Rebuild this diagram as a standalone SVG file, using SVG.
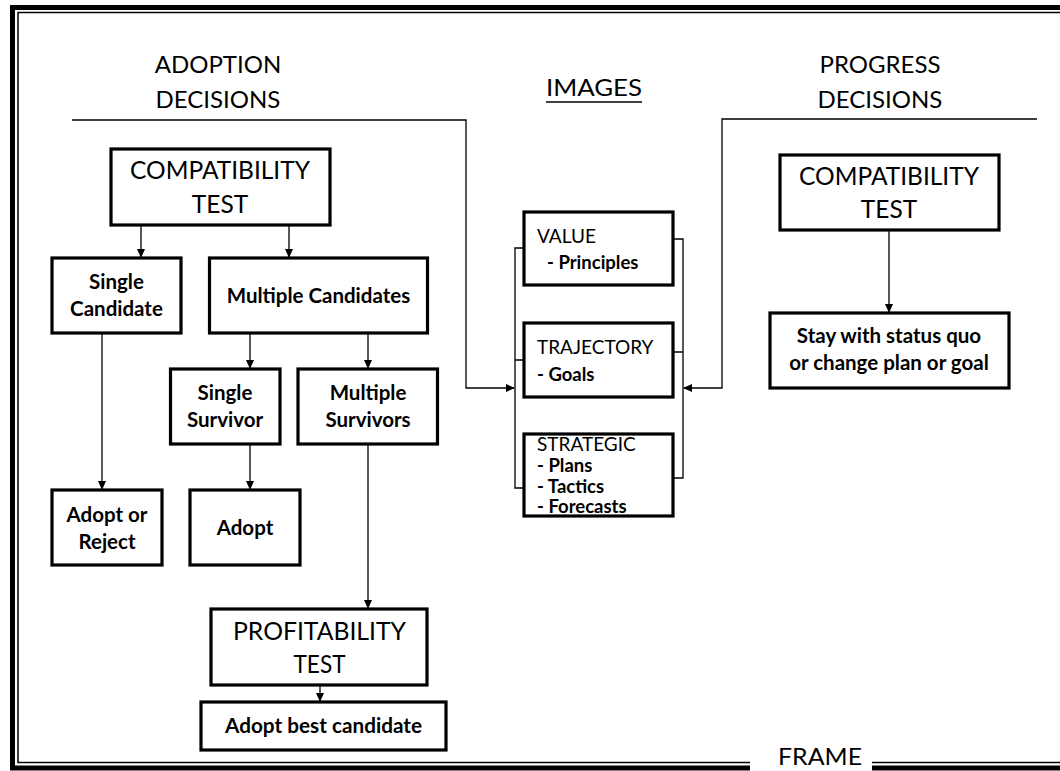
<svg xmlns="http://www.w3.org/2000/svg" width="1060" height="771" viewBox="0 0 1060 771">
<defs>
<marker id="ah" markerWidth="9" markerHeight="8" refX="8" refY="4" orient="auto" markerUnits="userSpaceOnUse"><path d="M0,0 L9,4 L0,8 z" fill="#000"/></marker>
<style>
.box{fill:#fff;stroke:#000;stroke-width:3.2}
.c{fill:none;stroke:#000;stroke-width:1.3}
.a{marker-end:url(#ah)}
.t{font-family:Lato,"Liberation Sans",sans-serif;fill:#000}
.h{font-size:24px;text-anchor:middle}
.ct{font-size:24.5px;text-anchor:middle}
.b{font-size:20.5px;font-weight:bold;text-anchor:middle}
.s{font-size:19px}
.sb{font-size:18.5px;font-weight:bold}
.cd{font-size:25px;text-anchor:middle}
.fr{fill:none;stroke:#000}
</style>
</defs>
<rect width="1060" height="771" fill="#fff"/>
<g id="frame">
<path class="fr" stroke-width="5" d="M1070 7.5 H12.5 V768 H750 M872 768 H1070"/>
<path class="fr" stroke-width="1.5" d="M1070 12.5 H18 V762.5 H750 M872 762.5 H1070"/>
<text class="t" x="820" y="765" font-size="23" text-anchor="middle" textLength="84" lengthAdjust="spacingAndGlyphs">FRAME</text>
</g>
<g id="headers">
<text class="t h" x="218" y="73">ADOPTION</text>
<text class="t h" x="218" y="108">DECISIONS</text>
<text class="t h" x="594" y="96" font-size="26" textLength="96" lengthAdjust="spacingAndGlyphs">IMAGES</text>
<line x1="546" y1="102" x2="642" y2="102" stroke="#000" stroke-width="1.5"/>
<text class="t h" x="880" y="73">PROGRESS</text>
<text class="t h" x="880" y="108">DECISIONS</text>
</g>
<g id="connectors">
<path class="c a" d="M141 225 V257"/>
<path class="c a" d="M289 225 V257"/>
<path class="c a" d="M102 333 V489"/>
<path class="c a" d="M250 333 V368"/>
<path class="c a" d="M368 333 V368"/>
<path class="c a" d="M250 444 V489"/>
<path class="c a" d="M368 444 V608"/>
<path class="c a" d="M320 685 V701"/>
<path class="c a" d="M72 120 H466 V388 H514"/>
<path class="c a" d="M1037 119 H722 V388 H684"/>
<path class="c a" d="M889 230 V312"/>
<path class="c" d="M523 248 H515 V488 H523 M515 360 H523"/>
<path class="c" d="M673 239 H683 V478 H673 M673 352 H683"/>
</g>
<g id="compat-left">
<rect class="box" x="111" y="149" width="219" height="76"/>
<text class="t ct" x="220" y="179">COMPATIBILITY</text>
<text class="t ct" x="220" y="213">TEST</text>
</g>
<g id="single-candidate">
<rect class="box" x="52" y="258" width="129" height="75"/>
<text class="t b" x="116.5" y="289">Single</text>
<text class="t b" x="116.5" y="316">Candidate</text>
</g>
<g id="multiple-candidates">
<rect class="box" x="209.5" y="258" width="218" height="75"/>
<text class="t b" x="318.5" y="303">Multiple Candidates</text>
</g>
<g id="single-survivor">
<rect class="box" x="170.5" y="369" width="109.5" height="75"/>
<text class="t b" x="225" y="400">Single</text>
<text class="t b" x="225" y="427">Survivor</text>
</g>
<g id="multiple-survivors">
<rect class="box" x="298" y="369" width="139.5" height="75"/>
<text class="t b" x="368" y="400">Multiple</text>
<text class="t b" x="368" y="427">Survivors</text>
</g>
<g id="adopt-or-reject">
<rect class="box" x="52" y="490" width="110" height="75"/>
<text class="t b" x="107" y="522">Adopt or</text>
<text class="t b" x="107" y="549">Reject</text>
</g>
<g id="adopt">
<rect class="box" x="190" y="490" width="110" height="75"/>
<text class="t b" x="245" y="535">Adopt</text>
</g>
<g id="profitability-test">
<rect class="box" x="211" y="609" width="216" height="76"/>
<text class="t cd" x="319.5" y="640" textLength="173" lengthAdjust="spacingAndGlyphs">PROFITABILITY</text>
<text class="t cd" x="319.5" y="673" textLength="52" lengthAdjust="spacingAndGlyphs">TEST</text>
</g>
<g id="adopt-best">
<rect class="box" x="201" y="702" width="245" height="48"/>
<text class="t" x="323.5" y="733" font-size="20" font-weight="bold" text-anchor="middle" textLength="197" lengthAdjust="spacingAndGlyphs">Adopt best candidate</text>
</g>
<g id="value">
<rect class="box" x="524" y="212" width="149" height="73"/>
<text class="t s" x="537" y="243">VALUE</text>
<text class="t sb" x="547" y="269">- Principles</text>
</g>
<g id="trajectory">
<rect class="box" x="524" y="323" width="149" height="74"/>
<text class="t s" x="537" y="354">TRAJECTORY</text>
<text class="t sb" x="537" y="381">- Goals</text>
</g>
<g id="strategic">
<rect class="box" x="524" y="434" width="149" height="82"/>
<text class="t s" x="537" y="451">STRATEGIC</text>
<text class="t sb" x="537" y="472">- Plans</text>
<text class="t sb" x="537" y="493">- Tactics</text>
<text class="t sb" x="537" y="513">- Forecasts</text>
</g>
<g id="compat-right">
<rect class="box" x="780" y="155" width="219" height="75"/>
<text class="t ct" x="889" y="185">COMPATIBILITY</text>
<text class="t ct" x="889" y="218">TEST</text>
</g>
<g id="stay">
<rect class="box" x="770" y="313" width="239" height="75"/>
<text class="t b" x="889" y="343">Stay with status quo</text>
<text class="t b" x="889" y="370">or change plan or goal</text>
</g>
</svg>
